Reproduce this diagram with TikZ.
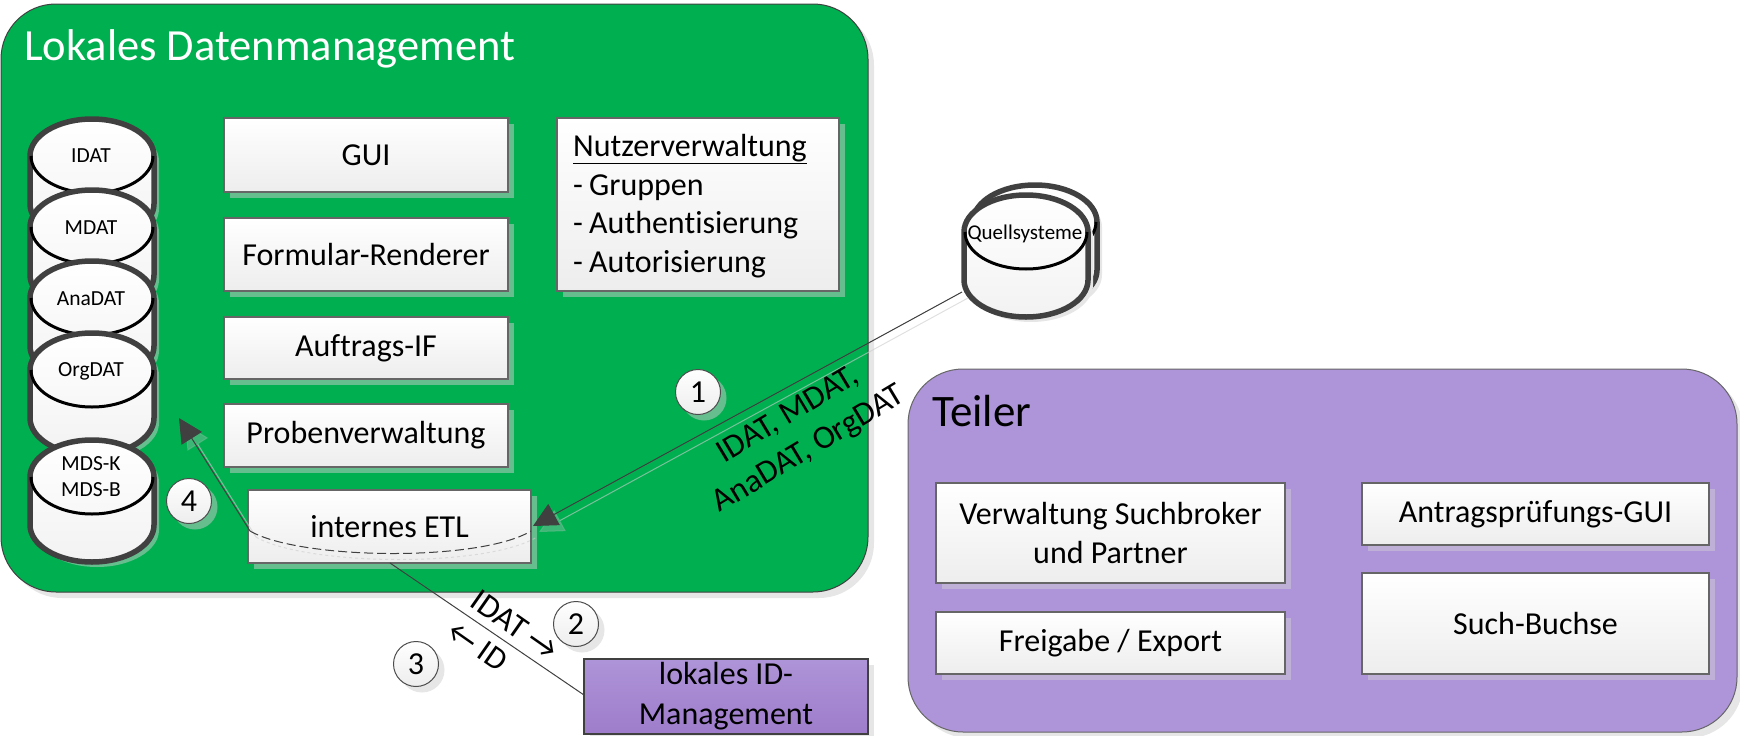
\documentclass[tikz,border=0pt]{standalone}
\usepackage{fontspec}
\setmainfont{Carlito}[Ligatures=NoCommon]
\usetikzlibrary{shadows,shadings,arrows.meta}
\definecolor{lokalgreen}{HTML}{00B050}
\definecolor{teilerpurple}{HTML}{AE94D8}
\definecolor{idpurple}{HTML}{9E7CCB}
\definecolor{shadowgreen}{HTML}{66BD8E}
\definecolor{shadowgrey}{HTML}{E6E6E6}
\definecolor{shadowpurple}{HTML}{BFB0D8}
\definecolor{linegrey}{HTML}{404040}
\tikzset{
  greenshadow/.style={general shadow={shadow xshift=6pt,shadow yshift=-6pt,fill=shadowgreen}},
  greyshadow/.style={general shadow={shadow xshift=6pt,shadow yshift=-6pt,fill=shadowgrey}},
  purpleshadow/.style={general shadow={shadow xshift=6pt,shadow yshift=-6pt,fill=shadowpurple}},
  panel/.style={draw=linegrey,line width=1pt,rounded corners=55pt},
  whitebox/.style={draw=black!60,line width=1.5pt,top color=white,bottom color=black!7,
    inner sep=0pt,align=center,font=\fontsize{32}{39}\selectfont},
  badge/.style={circle,draw=black!70,line width=1pt,top color=white,bottom color=black!7,
    minimum size=45pt,inner sep=0pt,font=\fontsize{32}{36}\selectfont},
  dbbody/.style={draw=linegrey,line width=5.5pt,top color=white,bottom color=black!5},
  dbtext/.style={inner sep=0pt,align=center,font=\fontsize{21.5}{26}\selectfont},
  conn/.style={draw=linegrey,line width=1pt},
  ghost/.style={draw=white!80!black,opacity=.6,line width=1pt,transform canvas={shift={(6pt,-6pt)}}},
  flowlabel/.style={inner sep=0pt,align=center,font=\fontsize{33}{40}\selectfont},
  bigtip/.style={-{Triangle[length=24pt,width=24pt]}},
  ghosttip/.style={-{Triangle[length=24pt,width=24pt,color=shadowgreen]}},
}
% cylinder: x centre, top, shadow colour
\newcommand\dbcyl[3]{
  \draw[dbbody,general shadow={shadow xshift=5pt,shadow yshift=-5pt,fill=#3}]
    (#1-62,#2+40) arc (180:0:62pt and 37pt) -- (#1+62,#2+88) arc (0:-180:62pt and 37pt) -- cycle;
  \draw[black,line width=3pt] (#1-61,#2+40) arc (180:360:61pt and 37pt);
}
\begin{document}
\begin{tikzpicture}[x=1pt,y=-1pt]
\useasboundingbox (0,0) rectangle (1740,736);
% panels
\draw[panel,fill=lokalgreen,greyshadow] (1,4) rectangle (868,592);
\draw[panel,draw=black!60,fill=teilerpurple,greyshadow] (908,369) rectangle (1737,732);
\node[text=white,anchor=west,inner sep=0pt,font=\fontsize{44.5}{50}\selectfont] (lokaltitle) at (24,49) {Lokales Datenmanagement};
\node[anchor=west,inner sep=0pt,font=\fontsize{45}{50}\selectfont] (teilertitle) at (932,411) {Teiler};
% databases
\dbcyl{92}{116}{shadowgreen}
\dbcyl{92}{187}{shadowgreen}
\dbcyl{92}{258}{shadowgreen}
\dbcyl{92}{330}{shadowgreen}
\dbcyl{92}{437}{shadowgreen}
\node[dbtext] (idat) at (91,156) {IDAT};
\node[dbtext] (mdat) at (91,228) {MDAT};
\node[dbtext] (anadat) at (91,299) {AnaDAT};
\node[dbtext] (orgdat) at (91,371) {OrgDAT};
\node[dbtext] (mdsk) at (91,477) {MDS-K\\MDS-B};
\dbcyl{1035}{182}{shadowgrey}
\dbcyl{1026}{192}{shadowgrey}
\node[dbtext,font=\fontsize{21}{26}\selectfont] (quell) at (1025,234) {Quellsysteme};
\coordinate (quellout) at (962,292);
% boxes left
\node[whitebox,greenshadow,minimum width=284pt,minimum height=74pt] (gui) at (366,155) {GUI};
\node[whitebox,greenshadow,minimum width=284pt,minimum height=73pt] (formular) at (366,254.5) {Formular-Renderer};
\node[whitebox,greenshadow,minimum width=284pt,minimum height=62pt] (auftrag) at (366,348) {Auftrags-IF};
\node[whitebox,greenshadow,minimum width=284pt,minimum height=63pt] (proben) at (366,435.5) {Probenverwaltung};
\node[whitebox,greenshadow,minimum width=283pt,minimum height=73pt] (etl) at (389.5,526.5) {internes ETL};
\node[whitebox,greenshadow,minimum width=282pt,minimum height=173pt] (nutzer) at (698,204.5) {};
\node[anchor=west,inner sep=0pt,align=left,font=\fontsize{32}{38.5}\selectfont] (nutzertext) at (573,206) {\underline{Nutzerverwaltung}\\-\kern-1pt{} Gruppen\\-\kern-1pt{} Authentisierung\\-\kern-1pt{} Autorisierung};
% boxes teiler
\node[whitebox,purpleshadow,minimum width=349pt,minimum height=100pt] (verwaltung) at (1110.5,533) {Verwaltung Suchbroker\\und Partner};
\node[whitebox,purpleshadow,minimum width=349pt,minimum height=62pt] (freigabe) at (1110.5,643) {Freigabe / Export};
\node[whitebox,purpleshadow,minimum width=347pt,minimum height=62pt] (antrag) at (1535.5,514) {Antragsprüfungs-GUI};
\node[whitebox,purpleshadow,minimum width=347pt,minimum height=101pt] (such) at (1535.5,623.5) {Such-Buchse};
\node[draw=linegrey,line width=1.5pt,top color=teilerpurple,bottom color=idpurple,greyshadow,
  minimum width=284pt,minimum height=75pt,inner sep=0pt,align=center,font=\fontsize{32}{40}\selectfont] (idmgmt) at (726,696.5) {lokales ID-\\Management};
% connectors
\coordinate (etltip) at (533,526);
\coordinate (etlleft) at (250,531);
\coordinate (etlright) at (531,531);
\coordinate (orgtip) at (179,418);
\coordinate (etlbottom) at (390,563);
\coordinate (idleft) at (584,695);
\draw[ghost,ghosttip] (quellout) -- (etltip);
\draw[ghost,ghosttip] (etlleft) -- (orgtip);
\draw[ghost,dashed] (etlleft) .. controls (300,560) and (480,562) .. (etlright);
\draw[conn,bigtip,fill=linegrey] (quellout) -- (etltip);
\draw[conn,bigtip,fill=linegrey] (etlleft) -- (orgtip);
\draw[conn] (etlbottom) -- (idleft);
\draw[conn,dash pattern=on 9pt off 4pt] (etlleft) .. controls (300,560) and (480,562) .. (etlright);
% labels
\node[flowlabel,rotate=31] (datlabel) at (799,433) {IDAT, MDAT,\\AnaDAT, OrgDAT};
\node[flowlabel,rotate=-35] (idatlabel) at (515,625) {IDAT \char"2192};
\node[flowlabel,rotate=-35,font=\fontsize{32}{40}\selectfont] (idlabel) at (478,646) {\char"2190{} ID};
% numbers
\node[badge,greenshadow] (one) at (698,392) {1};
\node[badge,greyshadow] (two) at (576,624) {2};
\node[badge,greyshadow] (three) at (416,664) {3};
\node[badge,greenshadow] (four) at (189,501) {4};
\end{tikzpicture}
\end{document}
